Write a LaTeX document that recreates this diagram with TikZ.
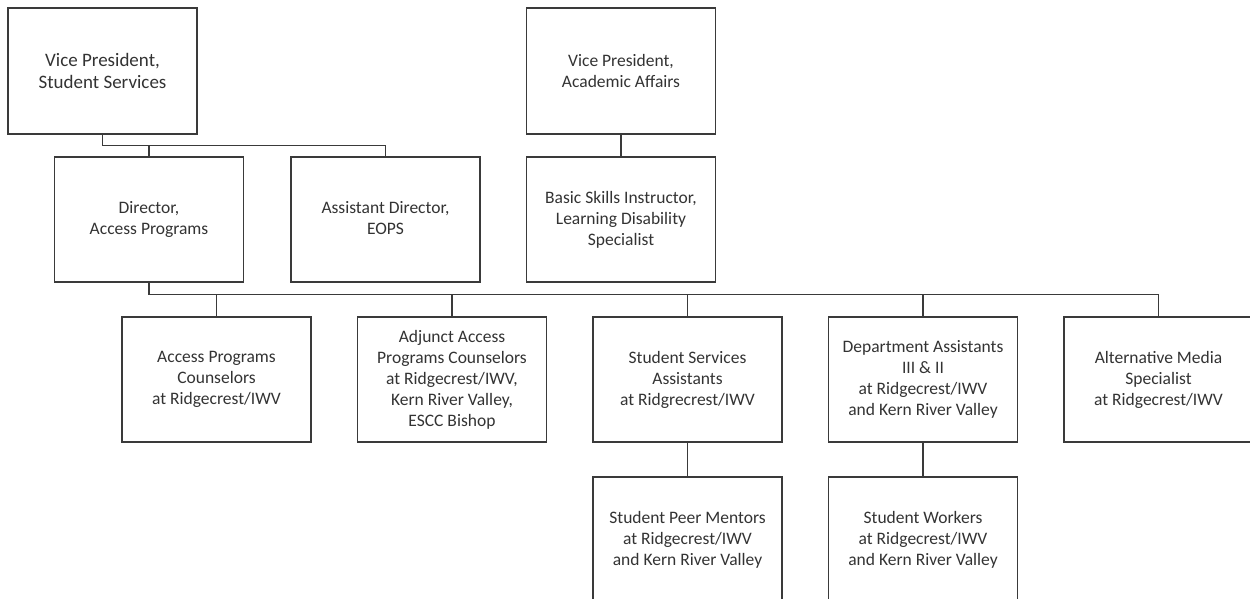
\documentclass[tikz,border=0pt]{standalone}
\usepackage{fontspec}
\setmainfont{Carlito}
\begin{document}
\begin{tikzpicture}[x=1pt,y=-1pt,
  box/.style={draw=linec, line width=1.3pt, fill=white, rectangle, align=center,
    minimum width=189pt, minimum height=125pt, inner sep=0pt,
    font=\fontsize{17.5}{21}\selectfont, text=textc},
  conn/.style={draw=linec, line width=1.3pt}]
\definecolor{linec}{HTML}{3A3A3A}
\definecolor{textc}{HTML}{333333}
\useasboundingbox (0,0) rectangle (1250,598);
% top row
\node[box, minimum height=126pt, font=\fontsize{19}{22}\selectfont] (vpss) at (102.5,71) {Vice President,\\Student Services};
\node[box, minimum height=126pt] (vpaa) at (621,71) {Vice President,\\Academic Affairs};
% second row
\node[box] (dir) at (149,219.5) {\raisebox{5pt}{\begin{tabular}{@{}c@{}}Director,\\Access Programs\end{tabular}}};
\node[box] (asst) at (385.5,219.5) {\raisebox{5pt}{\begin{tabular}{@{}c@{}}Assistant Director,\\EOPS\end{tabular}}};
\node[box] (bsi) at (621,219.5) {Basic Skills Instructor,\\Learning Disability\\Specialist};
% third row
\node[box] (apc) at (216.5,379.5) {Access Programs\\Counselors\\at Ridgecrest/IWV};
\node[box] (adj) at (452,379.5) {Adjunct Access\\Programs Counselors\\at Ridgecrest/IWV,\\Kern River Valley,\\ESCC Bishop};
\node[box] (ssa) at (687.5,379.5) {Student Services\\Assistants\\at Ridgrecrest/IWV};
\node[box] (dept) at (923,379.5) {Department Assistants\\III \& II\\at Ridgecrest/IWV\\and Kern River Valley};
\node[box] (alt) at (1158.5,379.5) {Alternative Media\\Specialist\\at Ridgecrest/IWV};
% fourth row
\node[box] (peer) at (687.5,539.5) {Student Peer Mentors\\at Ridgecrest/IWV\\and Kern River Valley};
\node[box] (work) at (923,539.5) {Student Workers\\at Ridgecrest/IWV\\and Kern River Valley};
% bus coordinates
\coordinate (bus1) at (0,145.5);
\coordinate (bus2) at (0,294.5);
% connectors
\draw[conn] (vpss.south) -- (vpss.south |- bus1) -| (asst.north);
\draw[conn] (dir.north |- bus1) -- (dir.north);
\draw[conn] (vpaa.south) -- (bsi.north);
\draw[conn] (dir.south) -- (dir.south |- bus2) -| (alt.north);
\draw[conn] (apc.north |- bus2) -- (apc.north);
\draw[conn] (adj.north |- bus2) -- (adj.north);
\draw[conn] (ssa.north |- bus2) -- (ssa.north);
\draw[conn] (dept.north |- bus2) -- (dept.north);
\draw[conn] (ssa.south) -- (peer.north);
\draw[conn] (dept.south) -- (work.north);
\end{tikzpicture}
\end{document}
